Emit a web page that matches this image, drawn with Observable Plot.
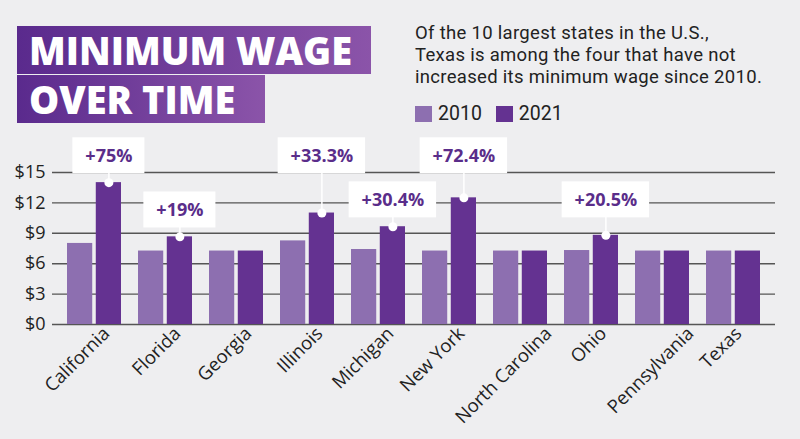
<!DOCTYPE html>
<html>
<head>
<meta charset="utf-8">
<script src="https://cdn.jsdelivr.net/npm/d3@7"></script>
<script src="https://cdn.jsdelivr.net/npm/@observablehq/plot@0.6"></script>
<style>
  html, body { margin: 0; padding: 0; background: #eeeef0; }
  #wrap { position: relative; width: 800px; height: 439px; overflow: hidden; background: #eeeef0; font-family: "Open Sans", sans-serif; }
  #head { position: relative; height: 130px; }
  .tbox { position: absolute; left: 17px; height: 48px; box-sizing: border-box; padding-left: 12px;
          background: linear-gradient(90deg, #5a2a8d, #8b54a9); color: #fff;
          font-weight: 800; font-size: 38px; line-height: 48px; white-space: nowrap; }
  #t1 { top: 26px; width: 354px; }
  #t2 { top: 75px; width: 248px; }
  #sub { position: absolute; left: 415px; top: 22px; font-family: Roboto, sans-serif; font-size: 18.5px;
         line-height: 22px; letter-spacing: 0.3px; color: #222; }
  #legend { position: absolute; left: 415px; top: 102px; font-family: Roboto, sans-serif; font-size: 19.5px;
            color: #222; display: flex; align-items: center; }
  .sw { display: inline-block; width: 17px; height: 16px; margin-right: 6px; }
  .item { display: flex; align-items: center; margin-right: 14px; }
  #chart svg { display: block; overflow: visible; }
</style>
</head>
<body>
<div id="wrap">
  <div id="head">
    <div class="tbox" id="t1">MINIMUM WAGE</div>
    <div class="tbox" id="t2">OVER TIME</div>
    <div id="sub">Of the 10 largest states in the U.S.,<br>Texas is among the four that have not<br>increased its minimum wage since 2010.</div>
    <div id="legend"></div>
  </div>
  <div id="chart"></div>
</div>
<script>
// Hourly minimum wage by state
const states = ["California", "Florida", "Georgia", "Illinois", "Michigan",
                "New York", "North Carolina", "Ohio", "Pennsylvania", "Texas"];
const years = ["2010", "2021"];
const wage2010 = [8.00, 7.25, 7.25, 8.25, 7.40, 7.25, 7.25, 7.30, 7.25, 7.25];
const wage2021 = [14.00, 8.65, 7.25, 11.00, 9.65, 12.50, 7.25, 8.80, 7.25, 7.25];
const changeLabels = ["+75%", "+19%", "", "+33.3%", "+30.4%", "+72.4%", "", "+20.5%", "", ""];
const yTicks = [0, 3, 6, 9, 12, 15];

const colors = {"2010": "#8d6fb0", "2021": "#643291"};
const labelColor = "#5a2d8a";

// legend
const legend = document.getElementById("legend");
for (const yr of years) {
  const item = document.createElement("span");
  item.className = "item";
  item.innerHTML = `<span class="sw" style="background:${colors[yr]}"></span>${yr}`;
  legend.appendChild(item);
}

const rows2010 = states.map((s, i) => ({state: s, value: wage2010[i]}));
const rows2021 = states.map((s, i) => ({state: s, value: wage2021[i]}));

// plot geometry
const width = 800, height = 309;
const marginLeft = 52, marginRight = 25, marginTop = 42, marginBottom = 115;
const paddingInner = 0.245, paddingOuter = 0.17;
const band = d3.scaleBand().domain(states).range([marginLeft, width - marginRight])
  .paddingInner(paddingInner).paddingOuter(paddingOuter);
const bw = band.bandwidth();
const barW = 25.3;
const gap = bw - barW;
const offset2021 = bw / 2 - barW / 2;

// callouts: labels sharing a row sit at the same height above their tallest bar
const calloutRows = [["California", "Illinois", "New York"], ["Michigan", "Ohio"], ["Florida"]];
const callouts = [];
for (const row of calloutRows) {
  const level = d3.max(row, s => wage2021[states.indexOf(s)]) + 2.65;
  for (const s of row) {
    const i = states.indexOf(s);
    callouts.push({state: s, value: wage2021[i], label: changeLabels[i], level});
  }
}
const ctx = document.createElement("canvas").getContext("2d");
ctx.font = "bold 18px 'Open Sans'";
const calloutBoxes = callouts.map(d => {
  const w = ctx.measureText(d.label).width + 25;
  return Plot.barY([d], {
    x: "state", y1: "level", y2: "level", fill: "white",
    insetLeft: bw - barW / 2 - w / 2, insetRight: barW / 2 - w / 2,
    insetTop: -18, insetBottom: -18
  });
});

// state name nudges for the rotated axis labels
const nudge = {"North Carolina": 28, "Pennsylvania": 28, "Texas": 5};
const labelText = (list, dx) => Plot.text(list, {
  x: d => d, y: () => 0, text: d => d, rotate: -45, textAnchor: "end",
  dx, dy: 6, fontSize: 18.5, fill: "#222"
});

const chart = Plot.plot({
  width, height, marginLeft, marginRight, marginTop, marginBottom,
  x: {domain: states, paddingInner, paddingOuter, axis: null},
  y: {domain: [0, 15], axis: null},
  style: {background: "transparent", fontFamily: "'Open Sans', sans-serif", overflow: "visible"},
  marks: [
    Plot.ruleY(yTicks, {y: d => d, stroke: "#555", strokeWidth: 1.4}),
    Plot.barY(rows2010, {x: "state", y: "value", fill: colors["2010"], insetRight: gap}),
    Plot.barY(rows2021, {x: "state", y: "value", fill: colors["2021"], insetLeft: gap}),
    Plot.ruleX(callouts, {x: "state", y1: "value", y2: "level", dx: offset2021, stroke: "white", strokeWidth: 1.5}),
    Plot.dot(callouts, {x: "state", y: "value", dx: offset2021, r: 4.5, fill: "white"}),
    ...calloutBoxes,
    Plot.text(callouts, {x: "state", y: "level", text: "label", dx: offset2021,
      fill: labelColor, fontSize: 18, fontWeight: "bold"}),
    Plot.text(yTicks, {y: d => d, text: d => "$" + d, frameAnchor: "left", textAnchor: "end",
      dx: -7, fontSize: 18, fill: "#222"}),
    labelText(states.filter(s => !(s in nudge)), 12),
    ...Object.entries(nudge).map(([s, dx]) => labelText([s], dx))
  ]
});
document.getElementById("chart").appendChild(chart);
</script>
</body>
</html>
